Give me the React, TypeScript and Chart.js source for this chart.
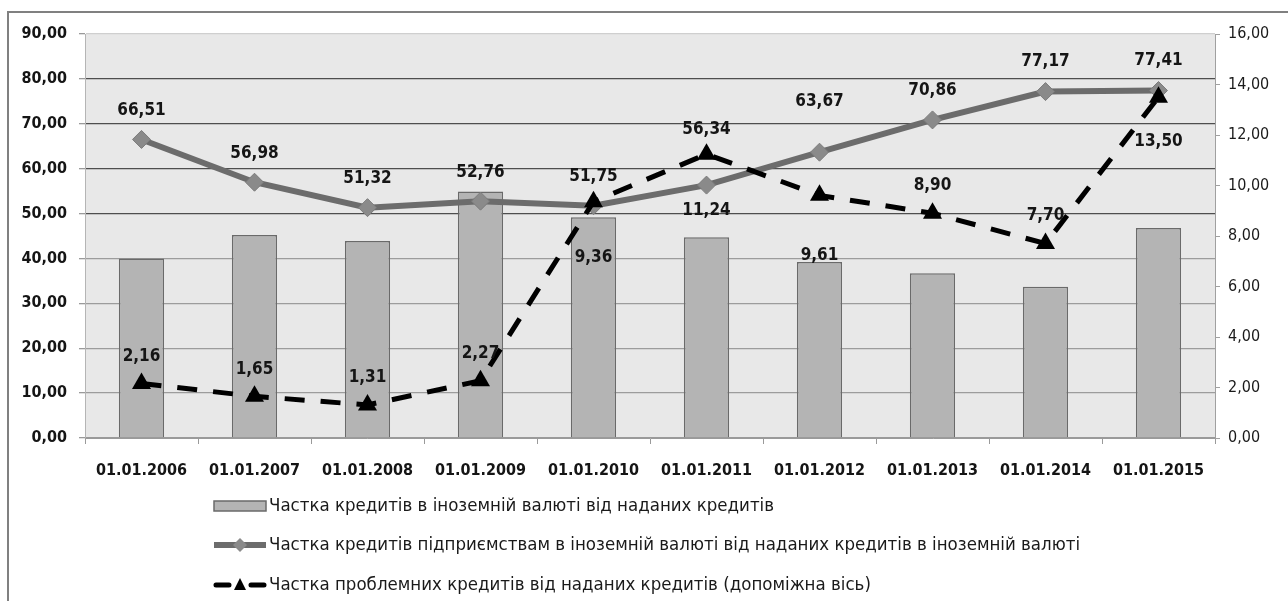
import React, { useEffect, useRef } from 'react';
import { Chart, registerables } from 'chart.js';

Chart.register(...registerables);

const categories = [
  '01.01.2006', '01.01.2007', '01.01.2008', '01.01.2009', '01.01.2010',
  '01.01.2011', '01.01.2012', '01.01.2013', '01.01.2014', '01.01.2015',
];
const foreignCurrencyShare = [40.0, 45.2, 43.9, 54.9, 49.2, 44.7, 39.2, 36.7, 33.7, 46.8];
const enterpriseForeignShare = [66.51, 56.98, 51.32, 52.76, 51.75, 56.34, 63.67, 70.86, 77.17, 77.41];
const problemLoanShare = [2.16, 1.65, 1.31, 2.27, 9.36, 11.24, 9.61, 8.9, 7.7, 13.5];

const seriesNames = [
  'Частка кредитів в іноземній валюті від наданих кредитів',
  'Частка кредитів підприємствам в іноземній валюті від наданих кредитів в іноземній валюті',
  'Частка проблемних кредитів від наданих кредитів (допоміжна вісь)',
];

// label placement (style): offsets in px relative to the point
const enterpriseLabelOffsets = [-29, -29, -29, -29, -29, -56, -51, -29, -30, -30];
const problemLabelOffsets = [-27, -27, -27, -27, 56, 56, 60, -28, -28, 44];

const FONT = '"DejaVu Sans Condensed", "DejaVu Sans", sans-serif';
const fmt = (v: number) => v.toFixed(2).replace('.', ',');

const BAR_FILL = '#b4b4b4';
const BAR_BORDER = '#6a6a6a';
const LINE_GRAY = '#6c6c6c';
const DIAMOND = '#8a8a8a';

const bgPlugin = {
  id: 'bgPlugin',
  beforeDraw(chart: any) {
    const { ctx, chartArea: a } = chart;
    ctx.save();
    ctx.fillStyle = '#ffffff';
    ctx.fillRect(0, 0, chart.width, chart.height);
    ctx.fillStyle = '#e8e8e8';
    ctx.fillRect(a.left, a.top, a.right - a.left, a.bottom - a.top);
    ctx.restore();
  },
};

const labelPlugin = {
  id: 'labelPlugin',
  afterDatasetsDraw(chart: any) {
    const ctx = chart.ctx;
    ctx.save();
    ctx.font = `bold 17px ${FONT}`;
    ctx.fillStyle = '#151515';
    ctx.textAlign = 'center';
    ctx.textBaseline = 'middle';
    chart.getDatasetMeta(1).data.forEach((el: any, i: number) => {
      ctx.fillText(fmt(enterpriseForeignShare[i]), el.x, el.y + enterpriseLabelOffsets[i]);
    });
    chart.getDatasetMeta(2).data.forEach((el: any, i: number) => {
      ctx.fillText(fmt(problemLoanShare[i]), el.x, el.y + problemLabelOffsets[i]);
    });
    ctx.restore();
  },
};

const framePlugin = {
  id: 'framePlugin',
  afterDraw(chart: any) {
    const ctx = chart.ctx;
    ctx.save();
    // outer frame
    ctx.strokeStyle = '#808080';
    ctx.lineWidth = 2;
    ctx.strokeRect(8, 12, chart.width + 20, chart.height + 20);

    // legend
    const x0 = 214;
    const x1 = 266;
    const tx = 269;
    const rows = [506, 545, 585];
    ctx.textAlign = 'left';
    ctx.textBaseline = 'middle';

    // row 1: bar swatch
    ctx.fillStyle = BAR_FILL;
    ctx.fillRect(x0, rows[0] - 5, x1 - x0, 10);
    ctx.strokeStyle = BAR_BORDER;
    ctx.lineWidth = 1.5;
    ctx.strokeRect(x0, rows[0] - 5, x1 - x0, 10);

    // row 2: gray line with diamond
    ctx.strokeStyle = LINE_GRAY;
    ctx.lineWidth = 6;
    ctx.beginPath();
    ctx.moveTo(x0, rows[1]);
    ctx.lineTo(x1, rows[1]);
    ctx.stroke();
    const cx = (x0 + x1) / 2;
    ctx.fillStyle = DIAMOND;
    ctx.beginPath();
    ctx.moveTo(cx, rows[1] - 7);
    ctx.lineTo(cx + 7, rows[1]);
    ctx.lineTo(cx, rows[1] + 7);
    ctx.lineTo(cx - 7, rows[1]);
    ctx.closePath();
    ctx.fill();

    // row 3: dashed black with triangle
    ctx.strokeStyle = '#000';
    ctx.lineWidth = 5;
    ctx.lineCap = 'round';
    ctx.beginPath();
    ctx.moveTo(x0 + 2, rows[2]);
    ctx.lineTo(x0 + 15, rows[2]);
    ctx.moveTo(x1 - 15, rows[2]);
    ctx.lineTo(x1 - 2, rows[2]);
    ctx.stroke();
    ctx.fillStyle = '#000';
    ctx.beginPath();
    ctx.moveTo(cx, rows[2] - 7);
    ctx.lineTo(cx + 6, rows[2] + 5);
    ctx.lineTo(cx - 6, rows[2] + 5);
    ctx.closePath();
    ctx.fill();

    ctx.font = `18.5px ${FONT}`;
    ctx.fillStyle = '#1a1a1a';
    seriesNames.forEach((name, i) => ctx.fillText(name, tx, rows[i]));
    ctx.restore();
  },
};

export default function App() {
  const canvasRef = useRef<HTMLCanvasElement | null>(null);

  useEffect(() => {
    document.body.style.margin = '0';
    const canvas = canvasRef.current;
    if (!canvas) return;
    const chart = new Chart(canvas, {
      type: 'bar',
      data: {
        labels: categories,
        datasets: [
          {
            type: 'bar',
            label: seriesNames[0],
            data: foreignCurrencyShare,
            backgroundColor: BAR_FILL,
            borderColor: BAR_BORDER,
            borderWidth: 1.5,
            barPercentage: 0.4,
            categoryPercentage: 1,
            yAxisID: 'y',
            order: 3,
          },
          {
            type: 'line',
            label: seriesNames[1],
            data: enterpriseForeignShare,
            borderColor: LINE_GRAY,
            borderWidth: 6,
            pointStyle: 'rectRot',
            pointRadius: 9,
            pointBackgroundColor: DIAMOND,
            pointBorderColor: '#7c7c7c',
            pointBorderWidth: 1,
            tension: 0,
            yAxisID: 'y',
            order: 2,
          },
          {
            type: 'line',
            label: seriesNames[2],
            data: problemLoanShare,
            borderColor: '#000000',
            borderWidth: 5,
            borderDash: [20, 16],
            pointStyle: 'triangle',
            pointRadius: 11,
            pointBackgroundColor: '#000000',
            pointBorderColor: '#000000',
            pointBorderWidth: 0,
            tension: 0,
            yAxisID: 'y1',
            order: 1,
          },
        ],
      },
      options: {
        responsive: false,
        animation: false,
        devicePixelRatio: 1,
        layout: { padding: { left: 0, right: 0, top: 34, bottom: 123 } },
        plugins: {
          legend: { display: false },
          tooltip: { enabled: false },
        },
        scales: {
          x: {
            offset: true,
            grid: {
              offset: true,
              drawOnChartArea: false,
              drawTicks: true,
              tickLength: 6,
              color: '#9a9a9a',
            },
            border: { display: true, color: '#9a9a9a', width: 1 },
            ticks: {
              color: '#151515',
              font: { family: FONT, size: 16, weight: 'bold' },
              padding: 17,
              maxRotation: 0,
              autoSkip: false,
            },
            afterFit(scale: any) {
              scale.height = 40;
            },
          },
          y: {
            position: 'left',
            min: 0,
            max: 90,
            ticks: {
              stepSize: 10,
              color: '#151515',
              font: { family: FONT, size: 16, weight: 'bold' },
              padding: 12,
              callback: (v: any) => fmt(Number(v)),
            },
            grid: {
              drawTicks: true,
              tickLength: 6,
              color: (c: any) => {
                const v = c.tick ? c.tick.value : 0;
                if (v >= 90) return '#cfcfcf';
                if (v >= 50) return '#4e4e4e';
                if (v <= 0) return '#9a9a9a';
                return '#9c9c9c';
              },
              tickColor: '#9a9a9a',
              lineWidth: 1.3,
            },
            border: { display: true, color: '#b5b5b5', width: 1 },
            afterFit(scale: any) {
              scale.width = 85;
            },
          },
          y1: {
            position: 'right',
            min: 0,
            max: 16,
            ticks: {
              stepSize: 2,
              color: '#1a1a1a',
              font: { family: FONT, size: 16, weight: 'normal' },
              padding: 8,
              callback: (v: any) => fmt(Number(v)),
            },
            grid: {
              drawOnChartArea: false,
              drawTicks: true,
              tickLength: 5,
              color: '#a0a0a0',
            },
            border: { display: true, color: '#a0a0a0', width: 1 },
            afterFit(scale: any) {
              scale.width = 73;
            },
          },
        },
      },
      plugins: [bgPlugin, labelPlugin, framePlugin],
    } as any);
    return () => chart.destroy();
  }, []);

  return (
    <canvas
      ref={canvasRef}
      width={1288}
      height={601}
      style={{ display: 'block', width: '1288px', height: '601px' }}
    />
  );
}
